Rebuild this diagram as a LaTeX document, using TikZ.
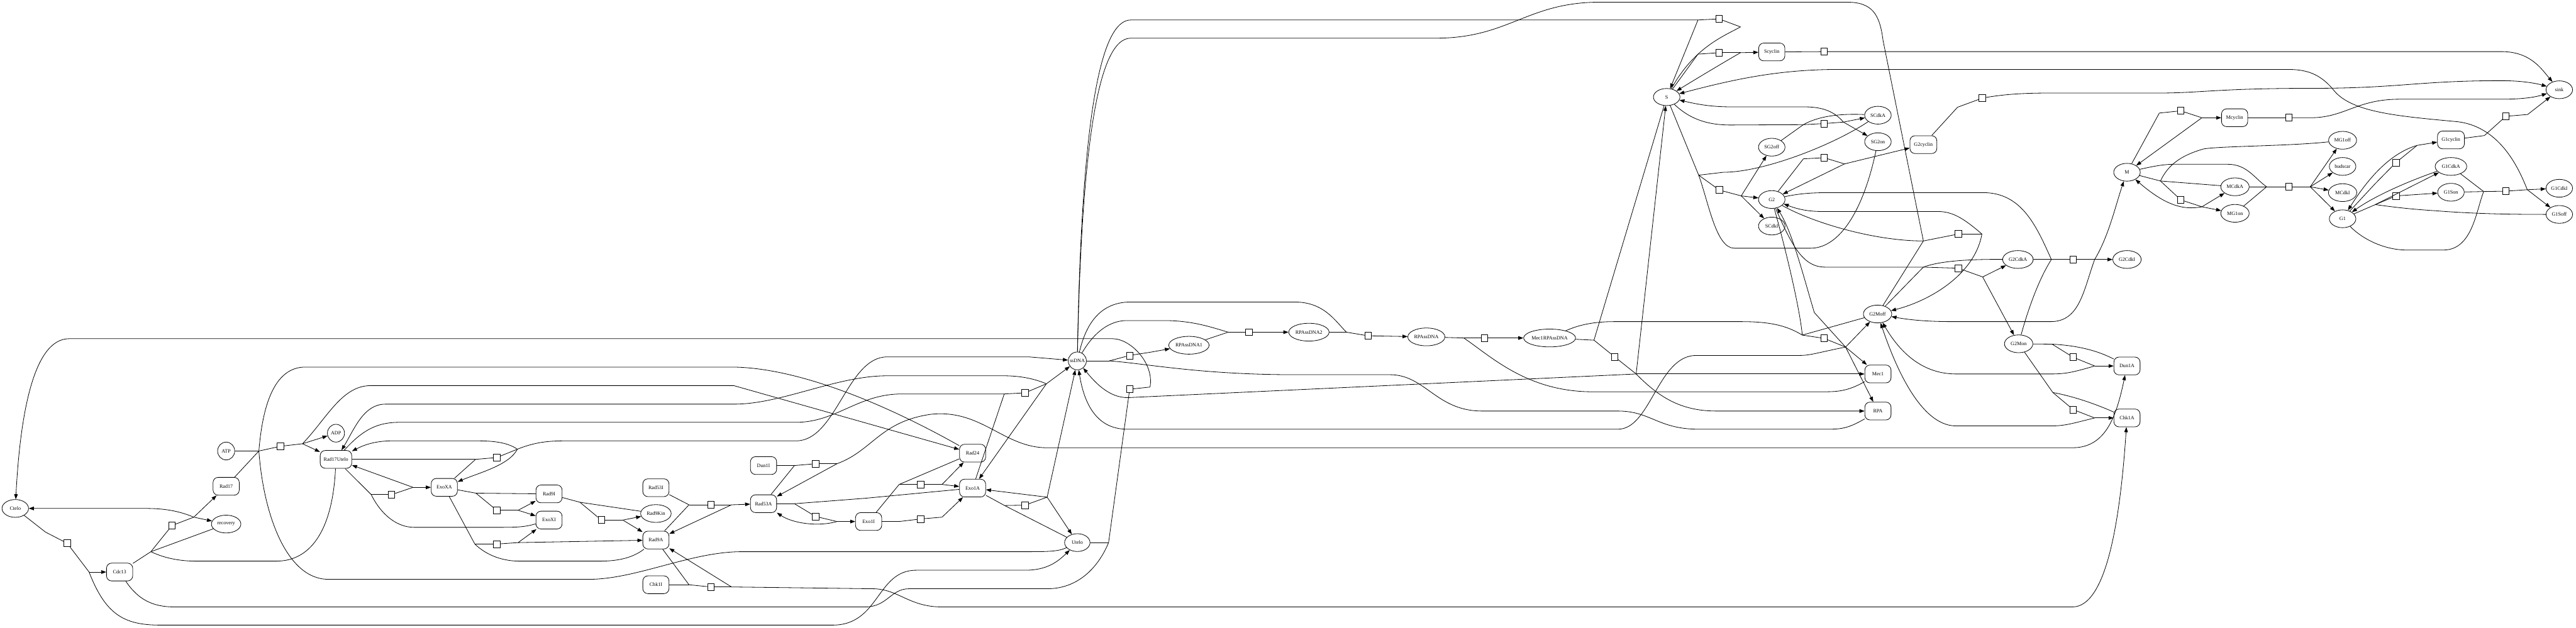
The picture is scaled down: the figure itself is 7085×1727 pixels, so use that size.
\documentclass[tikz,border=0pt]{standalone}
\usepackage{fontspec}
\setmainfont{Liberation Serif}
\usetikzlibrary{shapes.geometric, arrows.meta}

\begin{document}
\begin{tikzpicture}[
    x=1pt, y=-1pt,
    font=\fontsize{14}{16}\selectfont,
    sp/.style={ellipse, draw, line width=1.4pt, minimum width=73pt, minimum height=49pt, inner sep=1pt},
    bx/.style={rectangle, draw, rounded corners=14pt, line width=1.4pt, minimum width=72pt, minimum height=49pt, inner xsep=9.5pt},
    rx/.style={rectangle, draw, fill=white, line width=1.4pt, minimum width=18pt, minimum height=19pt, inner sep=0pt},
    ln/.style={line width=1.4pt},
    pr/.style={line width=1.4pt, -{Triangle[length=14pt, width=10pt]}}
]
\useasboundingbox (0,0) rectangle (7085,1727);

% 1. Species: telomere and checkpoint proteins
\node[sp] (Ctelo) at (42,1399) {Ctelo};
\node[bx] (Cdc13) at (329,1574) {Cdc13};
\node[sp, minimum width=47pt] (ATP) at (622,1241) {ATP};
\node[bx] (Rad17) at (622,1338) {Rad17};
\node[sp, minimum width=81pt] (recovery) at (622,1442) {recovery};
\node[sp, minimum width=47pt] (ADP) at (924,1192) {ADP};
\node[bx] (Rad17Utelo) at (924,1264) {Rad17Utelo};
\node[bx] (ExoXA) at (1222,1341) {ExoXA};
\node[bx] (Rad9I) at (1510,1359) {Rad9I};
\node[bx] (ExoXI) at (1510,1431) {ExoXI};
\node[bx] (Rad53I) at (1804,1342) {Rad53I};
\node[sp, minimum width=84pt] (Rad9Kin) at (1804,1413) {Rad9Kin};
\node[bx] (Rad9A) at (1804,1486) {Rad9A};
\node[bx] (Chk1I) at (1804,1609) {Chk1I};
\node[bx] (Dun1I) at (2100,1281) {Dun1I};
\node[bx] (Rad53A) at (2100,1386) {Rad53A};
\node[bx] (Exo1I) at (2389,1435) {Exo1I};
\node[bx] (Rad24) at (2675,1247) {Rad24};
\node[bx] (Exo1A) at (2675,1343) {Exo1A};
\node[sp, minimum width=47pt, inner xsep=-3pt] (ssDNA) at (2963,993) {ssDNA};
\node[sp, minimum width=70pt] (Utelo) at (2963,1493) {Utelo};
\node[sp, minimum width=111pt] (RPAssDNA1) at (3270,950) {RPAssDNA1};
\node[sp, minimum width=111pt] (RPAssDNA2) at (3600,914) {RPAssDNA2};
\node[sp, minimum width=102pt] (RPAssDNA) at (3923,927) {RPAssDNA};
\node[sp, minimum width=139pt] (Mec1RPAssDNA) at (4262,930) {Mec1RPAssDNA};
\node[bx] (Mec1) at (5165,1029) {Mec1};
\node[bx] (RPA) at (5165,1131) {RPA};
\node[bx] (Dun1A) at (5850,1007) {Dun1A};
\node[bx] (Chk1A) at (5850,1150) {Chk1A};

% 2. Species: cell cycle
\node[sp, minimum height=47pt] (S) at (4584,267) {S};
\node[bx] (Scyclin) at (4873,143) {Scyclin};
\node[sp] (SCdkA) at (5165,317) {SCdkA};
\node[sp] (SG2on) at (5165,390) {SG2on};
\node[sp] (SG2off) at (4873,405) {SG2off};
\node[bx, minimum width=74pt] (G2cyclin) at (5290,398) {G2cyclin};
\node[sp] (G2) at (4873,549) {G2};
\node[sp] (SCdkI) at (4873,622) {SCdkI};
\node[sp] (M) at (5850,474) {M};
\node[sp, minimum width=84pt] (G2CdkA) at (5550,714) {G2CdkA};
\node[sp, minimum width=78pt] (G2CdkI) at (5850,714) {G2CdkI};
\node[sp, minimum width=78pt] (G2Moff) at (5164,864) {G2Moff};
\node[sp, minimum width=78pt] (G2Mon) at (5552,946) {G2Mon};
\node[sp] (sink) at (7039,247) {sink};
\node[bx] (Mcyclin) at (6146,324) {Mcyclin};
\node[sp, minimum width=77pt] (MG1off) at (6443,386) {MG1off};
\node[sp] (budscar) at (6443,458) {budscar};
\node[sp, minimum width=78pt] (MCdkA) at (6147,514) {MCdkA};
\node[sp, minimum width=78pt] (MCdkI) at (6443,530) {MCdkI};
\node[sp, minimum width=78pt] (MG1on) at (6147,587) {MG1on};
\node[sp] (G1) at (6443,602) {G1};
\node[bx, minimum width=74pt] (G1cyclin) at (6741,385) {G1cyclin};
\node[sp, minimum width=87pt] (G1CdkA) at (6741,458) {G1CdkA};
\node[sp] (G1Son) at (6741,529) {G1Son};
\node[sp] (G1CdkI) at (7039,518) {G1CdkI};
\node[sp] (G1Soff) at (7039,590) {G1Soff};

% 3. Reactions
\node[rx] (q1) at (185,1495) {};   \coordinate (q1i) at (125,1464);  \coordinate (q1o) at (245,1574);
\node[rx] (q2) at (473,1446) {};   \coordinate (q2i) at (415,1518);  \coordinate (q2o) at (533,1423);
\node[rx] (q3) at (771,1228) {};   \coordinate (q3i) at (712,1241);  \coordinate (q3o) at (832,1221);
\node[rx] (q4) at (1077,1361) {};  \coordinate (q4i) at (1021,1361); \coordinate (q4o) at (1136,1341);
\node[rx] (q5) at (1366,1259) {};  \coordinate (q5i) at (1308,1264); \coordinate (q5o) at (1423,1236);
\node[rx] (q6) at (1366,1404) {};  \coordinate (q6i) at (1309,1357); \coordinate (q6o) at (1425,1404);
\node[rx] (q7) at (1366,1497) {};  \coordinate (q7i) at (1306,1497); \coordinate (q7o) at (1425,1493);
\node[rx] (q8) at (1654,1431) {};  \coordinate (q8i) at (1595,1382); \coordinate (q8o) at (1713,1431);
\node[rx] (q9) at (1955,1389) {};  \coordinate (q9i) at (1895,1389); \coordinate (q9o) at (2012,1389);
\node[rx] (q10) at (1955,1615) {}; \coordinate (q10i) at (1895,1609); \coordinate (q10o) at (2012,1615);
\node[rx] (q11) at (2243,1276) {}; \coordinate (q11i) at (2185,1281); \coordinate (q11o) at (2302,1276);
\node[rx] (q12) at (2243,1421) {}; \coordinate (q12i) at (2185,1386); \coordinate (q12o) at (2302,1435);
\node[rx] (q13) at (2532,1333) {}; \coordinate (q13i) at (2473,1333); \coordinate (q13o) at (2591,1333);
\node[rx] (q14) at (2532,1428) {}; \coordinate (q14i) at (2473,1435); \coordinate (q14o) at (2591,1423);
\node[rx] (q15) at (2819,1081) {}; \coordinate (q15i) at (2762,1084); \coordinate (q15o) at (2878,1056);
\node[rx] (q16) at (2819,1390) {}; \coordinate (q16i) at (2763,1391); \coordinate (q16o) at (2880,1368);
\node[rx] (q17) at (3107,978) {};  \coordinate (q17i) at (3051,993);  \coordinate (q17o) at (3165,969);
\node[rx] (q18) at (3107,1071) {}; \coordinate (q18i) at (3049,1493); \coordinate (q18o) at (3163,1065);
\node[rx] (q19) at (3435,914) {};  \coordinate (q19i) at (3378,914);
\node[rx] (q20) at (3763,924) {};  \coordinate (q20i) at (3703,914);
\node[rx] (q21) at (4083,930) {};  \coordinate (q21i) at (4026,930);
\node[rx] (q22) at (4441,982) {};  \coordinate (q22i) at (4384,936); \coordinate (q22o) at (4500,1029);
\node[rx] (q23) at (4728,52) {};   \coordinate (q23i) at (4670,55);  \coordinate (q23o) at (4787,74);
\node[rx] (q24) at (4728,145) {};  \coordinate (q24i) at (4670,149); \coordinate (q24o) at (4787,145);
\node[rx] (q25) at (4729,523) {};  \coordinate (q25i) at (4672,482); \coordinate (q25o) at (4789,539);
\node[rx] (q26) at (5017,142) {};
\node[rx] (q27) at (5017,340) {};  \coordinate (q27i) at (4960,343); \coordinate (q27o) at (5070,336);
\node[rx] (q28) at (5017,434) {};  \coordinate (q28i) at (4960,437); \coordinate (q28o) at (5073,451);
\node[rx] (q29) at (5386,644) {};  \coordinate (q29i) at (5290,663); \coordinate (q29o) at (5451,644);
\node[rx] (q30) at (5386,738) {};  \coordinate (q30i) at (5290,735); \coordinate (q30o) at (5453,762);
\node[rx] (q31) at (5017,931) {};  \coordinate (q31i) at (4957,922); \coordinate (q31o) at (5076,955);
\node[rx] (q32) at (5452,270) {};  \coordinate (q32i) at (5384,295);
\node[rx] (q33) at (5702,714) {};  \coordinate (q33i) at (5642,714); \coordinate (q33o) at (5761,714);
\node[rx] (q34) at (5702,983) {};  \coordinate (q34i) at (5644,947); \coordinate (q34o) at (5761,1007);
\node[rx] (q35) at (5702,1127) {}; \coordinate (q35i) at (5646,1080); \coordinate (q35o) at (5761,1150);
\node[rx] (q36) at (5998,305) {};  \coordinate (q36i) at (5939,311); \coordinate (q36o) at (6056,324);
\node[rx] (q37) at (6295,324) {};
\node[rx] (q38) at (5998,550) {};  \coordinate (q38i) at (5942,498); \coordinate (q38o) at (6056,569);
\node[rx] (q39) at (6295,514) {};  \coordinate (q39i) at (6234,514); \coordinate (q39o) at (6354,514);
\node[rx] (q40) at (6590,447) {};  \coordinate (q40i) at (6533,505); \coordinate (q40o) at (6648,400);
\node[rx] (q41) at (6590,539) {};  \coordinate (q41i) at (6533,563);
\node[rx] (q42) at (6892,320) {};  \coordinate (q42i) at (6833,373);
\node[rx] (q43) at (6892,526) {};  \coordinate (q43i) at (6831,527); \coordinate (q43o) at (6951,522);

% -- uncapping and recovery --
\draw[ln] (Ctelo) -- (q1i) -- (q1);
\draw[ln] (q1) -- (q1o);
\draw[pr] (q1o) -- (Cdc13);
\draw[pr] (q1o) .. controls (290,1690) and (340,1720) .. (440,1720) -- (2290,1720) .. controls (2420,1720) and (2410,1569) .. (2520,1569) -- (2820,1569) .. controls (2880,1569) and (2910,1545) .. (Utelo);
\draw[ln] (Cdc13) -- (q2i);
\draw[ln] (recovery) -- (q2i);
\draw[ln] (Rad17Utelo) .. controls (915,1450) and (860,1544) .. (760,1544) -- (540,1544) .. controls (480,1544) and (440,1530) .. (q2i);
\draw[ln] (q2i) -- (q2);
\draw[ln] (q2) -- (q2o);
\draw[pr] (q2o) -- (Rad17);
\draw[pr] (q2o) -- (recovery);
\draw[pr] (q2o) .. controls (490,1405) and (450,1399) .. (400,1399) -- (Ctelo);

% -- Rad17 loading --
\draw[ln] (ATP) -- (q3i);
\draw[ln] (Rad17) -- (q3i);
\draw[ln] (Utelo) .. controls (2910,1518) and (2880,1518) .. (2820,1518) -- (2040,1518) .. controls (1900,1518) and (1750,1594) .. (1620,1594) -- (903,1594) .. controls (790,1594) and (725,1420) .. (q3i);
\draw[ln] (q3i) .. controls (725,1080) and (770,1010) .. (840,1010) -- (2010,1010) .. controls (2200,1010) and (2450,1120) .. (Rad24);
\draw[ln] (q3i) -- (q3);
\draw[ln] (q3) -- (q3o);
\draw[pr] (q3o) -- (ADP);
\draw[pr] (q3o) -- (Rad17Utelo);
\draw[pr] (q3o) .. controls (900,1150) and (940,1061) .. (1020,1061) -- (2018,1061) -- (Rad24);

% -- ExoX --
\draw[ln] (Rad17Utelo) -- (q4i);
\draw[ln] (ExoXI) .. controls (1440,1451) and (1420,1451) .. (1360,1451) -- (1140,1451) .. controls (1080,1451) and (1040,1400) .. (q4i);
\draw[ln] (q4i) -- (q4);
\draw[ln] (q4) -- (q4o);
\draw[pr] (q4o) -- (Rad17Utelo);
\draw[pr] (q4o) -- (ExoXA);
\draw[ln] (Rad17Utelo.east) -- (q5i);
\draw[ln] (ExoXA) -- (q5i);
\draw[ln] (q5i) -- (q5);
\draw[ln] (q5) -- (q5o);
\draw[pr] (q5o) .. controls (1400,1280) and (1320,1300) .. (ExoXA);
\draw[pr] (q5o) .. controls (1390,1213) and (1340,1213) .. (1300,1213) -- (1080,1213) .. controls (1030,1213) and (1000,1225) .. (Rad17Utelo);
\draw[pr] (q5o) .. controls (1480,1213) and (1520,1213) .. (1570,1213) -- (2190,1213) .. controls (2300,1213) and (2330,982) .. (2440,982) -- (2830,982) -- (ssDNA);
\draw[ln] (ExoXA) -- (q6i);
\draw[ln] (Rad9I) -- (q6i);
\draw[ln] (q6i) -- (q6);
\draw[ln] (q6) -- (q6o);
\draw[pr] (q6o) -- (Rad9I);
\draw[pr] (q6o) -- (ExoXI);
\draw[ln] (ExoXA) -- (q7i);
\draw[ln] (Rad9A) .. controls (1740,1535) and (1700,1544) .. (1650,1544) -- (1430,1544) .. controls (1370,1544) and (1330,1520) .. (q7i);
\draw[ln] (q7i) -- (q7);
\draw[ln] (q7) -- (q7o);
\draw[pr] (q7o) -- (ExoXI);
\draw[pr] (q7o) -- (Rad9A);

% -- Rad9, Rad53, Chk1, Dun1 --
\draw[ln] (Rad9I) -- (q8i);
\draw[ln] (Rad9Kin) -- (q8i);
\draw[ln] (q8i) -- (q8);
\draw[ln] (q8) -- (q8o);
\draw[pr] (q8o) -- (Rad9Kin);
\draw[pr] (q8o) -- (Rad9A);
\draw[ln] (Rad53I) -- (q9i);
\draw[ln] (Rad9A) -- (q9i);
\draw[ln] (q9i) -- (q9);
\draw[ln] (q9) -- (q9o);
\draw[pr] (q9o) -- (Rad53A);
\draw[pr] (q9o) -- (Rad9A);
\draw[ln] (Chk1I) -- (q10i);
\draw[ln] (Rad9A) -- (q10i);
\draw[ln] (q10i) -- (q10);
\draw[ln] (q10) -- (q10o);
\draw[pr] (q10o) -- (Rad9A);
\draw[pr] (q10o) -- (2400,1620) .. controls (2470,1620) and (2500,1670) .. (2590,1670) -- (5700,1670) .. controls (5790,1670) and (5830,1450) .. (Chk1A);
\draw[ln] (Dun1I) -- (q11i);
\draw[ln] (Rad53A) -- (q11i);
\draw[ln] (q11i) -- (q11);
\draw[ln] (q11) -- (q11o);
\draw[pr] (q11o) -- (Rad53A);
\draw[pr] (q11o) .. controls (2400,1240) and (2420,1160) .. (2560,1140) .. controls (2700,1125) and (2760,1232) .. (2880,1232) -- (5700,1232) .. controls (5790,1232) and (5820,1150) .. (Dun1A);
\draw[ln] (Rad53A) -- (q12i);
\draw[ln] (Exo1A) -- (2380,1371) -- (q12i);
\draw[ln] (q12i) -- (q12);
\draw[ln] (q12) -- (q12o);
\draw[pr] (q12o) -- (Exo1I);
\draw[pr] (q12o) .. controls (2250,1450) and (2180,1440) .. (Rad53A);

% -- Exo1 and resection --
\draw[ln] (Exo1I) -- (q13i);
\draw[ln] (Rad24) -- (q13i);
\draw[ln] (q13i) -- (q13);
\draw[ln] (q13) -- (q13o);
\draw[pr] (q13o) -- (Rad24);
\draw[pr] (q13o) -- (Exo1A);
\draw[ln] (Exo1I) -- (q14i);
\draw[ln] (q14i) -- (q14);
\draw[ln] (q14) -- (q14o);
\draw[pr] (q14o) -- (Exo1A);
\draw[ln] (Rad17Utelo) .. controls (1000,1180) and (1040,1162) .. (1100,1162) -- (2190,1162) .. controls (2300,1162) and (2360,1084) .. (2480,1084) -- (q15i);
\draw[ln] (Exo1A) -- (q15i);
\draw[ln] (q15i) -- (q15);
\draw[ln] (q15) -- (q15o);
\draw[pr] (q15o) -- (Exo1A);
\draw[pr] (q15o) -- (ssDNA);
\draw[pr] (q15o) .. controls (2840,1040) and (2800,1034) .. (2760,1034) -- (2440,1034) .. controls (2300,1034) and (2150,1112) .. (2020,1112) -- (1060,1112) .. controls (1000,1112) and (975,1180) .. (Rad17Utelo);
\draw[ln] (Exo1A) -- (q16i);
\draw[ln] (Utelo) -- (q16i);
\draw[ln] (q16i) -- (q16);
\draw[ln] (q16) -- (q16o);
\draw[pr] (q16o) -- (Exo1A);
\draw[pr] (q16o) -- (Utelo);
\draw[pr] (q16o) -- (ssDNA);

% -- recapping --
\draw[ln] (Utelo) -- (q18i);
\draw[ln] (Cdc13) .. controls (380,1650) and (420,1670) .. (480,1670) -- (2380,1670) .. controls (2440,1670) and (2450,1620) .. (2500,1620) -- (2880,1620) .. controls (2980,1620) and (3030,1540) .. (q18i);
\draw[ln] (q18i) -- (q18);
\draw[ln] (q18) -- (q18o);
\draw[pr] (q18o) .. controls (3175,1000) and (3110,932) .. (3060,932) -- (190,932) .. controls (90,932) and (55,1150) .. (Ctelo);

% -- RPA and Mec1 --
\draw[ln] (ssDNA) -- (q17i);
\draw[ln] (RPA) .. controls (5080,1181) and (5060,1181) .. (5020,1181) -- (4672,1181) .. controls (4560,1181) and (4540,1131) .. (4450,1131) -- (4076,1131) .. controls (3950,1131) and (3920,1031) .. (3823,1031) -- (3560,1031) .. controls (3300,1031) and (3150,1000) .. (q17i);
\draw[ln] (q17i) -- (q17);
\draw[ln] (q17) -- (q17o);
\draw[pr] (q17o) -- (RPAssDNA1);
\draw[ln] (RPAssDNA1) -- (q19i);
\draw[ln] (ssDNA) .. controls (3000,930) and (3040,882) .. (3100,882) -- (3200,882) .. controls (3280,882) and (3330,900) .. (q19i);
\draw[ln] (q19i) -- (q19);
\draw[pr] (q19) -- (RPAssDNA2);
\draw[ln] (RPAssDNA2) -- (q20i);
\draw[ln] (ssDNA) .. controls (2985,900) and (3020,831) .. (3110,831) -- (3560,831) .. controls (3640,831) and (3670,880) .. (q20i);
\draw[ln] (q20i) -- (q20);
\draw[pr] (q20) -- (RPAssDNA);
\draw[ln] (RPAssDNA) -- (q21i);
\draw[ln] (Mec1) .. controls (5080,1078) and (5050,1078) .. (5010,1078) -- (4380,1078) .. controls (4200,1078) and (4100,980) .. (q21i);
\draw[ln] (q21i) -- (q21);
\draw[pr] (q21) -- (Mec1RPAssDNA);
\draw[ln] (Mec1RPAssDNA) -- (q22i);
\draw[ln] (S) -- (q22i);
\draw[ln] (q22i) -- (q22);
\draw[ln] (q22) -- (q22o);
\draw[pr] (q22o) -- (S);
\draw[pr] (q22o) -- (Mec1);
\draw[pr] (q22o) .. controls (4560,1090) and (4620,1131) .. (4720,1131) -- (RPA);
\draw[pr] (q22o) -- (3104,1094) .. controls (3050,1096) and (3010,1050) .. (ssDNA);

% -- S phase --
\draw[ln] (ssDNA) .. controls (2975,300) and (3030,55) .. (3110,55) -- (q23i);
\draw[pr] (q23i) -- (S);
\draw[ln] (q23i) -- (q23);
\draw[ln] (q23) -- (q23o);
\draw[ln] (q23o) .. controls (4740,100) and (4660,130) .. (S);
\draw[ln] (S) -- (q24i);
\draw[ln] (q24i) -- (q24);
\draw[ln] (q24) -- (q24o);
\draw[pr] (q24o) -- (Scyclin);
\draw[pr] (q24o) .. controls (4740,172) and (4660,220) .. (S);
\draw[ln] (Scyclin) -- (q26);
\draw[pr] (q26) -- (6880,142) .. controls (6960,142) and (6990,190) .. (sink);
\draw[ln] (S) .. controls (4650,330) and (4700,344) .. (4760,344) -- (q27i);
\draw[ln] (SG2off) -- (q27i);
\draw[ln] (SCdkA) .. controls (5060,312) and (5000,320) .. (q27i);
\draw[ln] (q27i) -- (q27);
\draw[ln] (q27) -- (q27o);
\draw[pr] (q27o) -- (SCdkA);
\draw[pr] (q27o) -- (SG2on);
\draw[pr] (q27o) .. controls (5040,300) and (5000,294) .. (4960,294) -- (4760,294) .. controls (4700,294) and (4660,285) .. (S);
\draw[ln] (S) -- (q25i);
\draw[ln] (SCdkA) .. controls (5040,400) and (4850,474) .. (4740,474) -- (q25i);
\draw[ln] (SG2on) .. controls (5120,600) and (5050,683) .. (4980,683) -- (4770,683) .. controls (4720,683) and (4700,560) .. (q25i);
\draw[ln] (q25i) -- (q25);
\draw[ln] (q25) -- (q25o);
\draw[pr] (q25o) -- (G2);
\draw[pr] (q25o) -- (SG2off);
\draw[pr] (q25o) -- (SCdkI);

% -- G2 phase --
\draw[ln] (G2) -- (q28i);
\draw[ln] (q28i) -- (q28);
\draw[ln] (q28) -- (q28o);
\draw[pr] (q28o) -- (G2cyclin);
\draw[pr] (q28o) -- (G2);
\draw[ln] (G2cyclin) -- (q32i);
\draw[ln] (q32i) -- (q32);
\draw[pr] (q32) .. controls (5520,258) and (5580,256) .. (5640,256) -- (5939,256) .. controls (6050,256) and (6100,243) .. (6360,243) .. controls (6600,243) and (6650,222) .. (6880,222) .. controls (6930,222) and (6970,228) .. (sink);
\draw[ln] (ssDNA) .. controls (2975,400) and (3020,105) .. (3110,105) -- (3950,105) .. controls (4150,105) and (4200,6) .. (4400,6) -- (5080,6) .. controls (5150,6) and (5170,40) .. (5179,111) -- (q29i);
\draw[ln] (G2Moff) -- (q29i);
\draw[ln] (G2) .. controls (4980,610) and (5150,663) .. (q29i);
\draw[ln] (q29i) -- (q29);
\draw[ln] (q29) -- (q29o);
\draw[pr] (q29o) .. controls (5400,600) and (5370,582) .. (5330,582) -- (5011,582) .. controls (4960,582) and (4930,570) .. (G2);
\draw[pr] (q29o) .. controls (5430,760) and (5300,830) .. (G2Moff);
\draw[ln] (G2) .. controls (4930,680) and (4960,735) .. (5020,735) -- (q30i);
\draw[ln] (G2Moff) -- (q30i);
\draw[ln] (G2CdkA) .. controls (5400,713) and (5330,720) .. (q30i);
\draw[ln] (q30i) -- (q30);
\draw[ln] (q30) -- (q30o);
\draw[pr] (q30o) -- (G2CdkA);
\draw[pr] (q30o) -- (G2Mon);
\draw[ln] (G2) .. controls (4915,700) and (4950,850) .. (q31i);
\draw[ln] (Mec1RPAssDNA) .. controls (4340,895) and (4380,885) .. (4440,885) -- (4790,885) .. controls (4880,885) and (4920,900) .. (q31i);
\draw[ln] (G2Moff) -- (q31i);
\draw[ln] (q31i) -- (q31);
\draw[ln] (q31) -- (q31o);
\draw[pr] (q31o) -- (Mec1);
\draw[pr] (q31o) -- (RPA);
\draw[pr] (q31o) -- (G2Moff);
\draw[pr] (q31o) -- (4990,860) .. controls (4960,760) and (4930,640) .. (G2);
\draw[pr] (q31o) .. controls (5000,970) and (4980,978) .. (4950,978) -- (4665,978) .. controls (4560,978) and (4540,1181) .. (4450,1181) -- (3100,1181) .. controls (3010,1181) and (2980,1100) .. (ssDNA);

% -- G2/M checkpoint --
\draw[ln] (G2) .. controls (4960,530) and (5000,530) .. (5050,530) -- (5454,530) .. controls (5560,530) and (5600,620) .. (q33i);
\draw[ln] (G2CdkA) -- (q33i);
\draw[ln] (G2Mon) .. controls (5570,880) and (5600,780) .. (q33i);
\draw[ln] (q33i) -- (q33);
\draw[ln] (q33) -- (q33o);
\draw[pr] (q33o) -- (G2CdkI);
\draw[pr] (q33o) .. controls (5800,650) and (5820,560) .. (M);
\draw[pr] (q33o) .. controls (5730,800) and (5720,885) .. (5640,885) -- (5370,885) .. controls (5300,885) and (5250,880) .. (G2Moff);
\draw[ln] (G2Mon) -- (q34i);
\draw[ln] (Dun1A) .. controls (5760,960) and (5700,950) .. (q34i);
\draw[ln] (q34i) -- (q34);
\draw[ln] (q34) -- (q34o);
\draw[pr] (q34o) -- (Dun1A);
\draw[pr] (q34o) .. controls (5700,1025) and (5680,1029) .. (5640,1029) -- (5380,1029) .. controls (5280,1029) and (5220,960) .. (G2Moff);
\draw[ln] (G2Mon) -- (q35i);
\draw[ln] (Chk1A) .. controls (5760,1110) and (5700,1090) .. (q35i);
\draw[ln] (q35i) -- (q35);
\draw[ln] (q35) -- (q35o);
\draw[pr] (q35o) -- (Chk1A);
\draw[pr] (q35o) .. controls (5700,1165) and (5680,1172) .. (5640,1172) -- (5380,1172) .. controls (5280,1172) and (5210,1000) .. (G2Moff);

% -- M phase --
\draw[ln] (M) -- (q36i);
\draw[ln] (q36i) -- (q36);
\draw[ln] (q36) -- (q36o);
\draw[pr] (q36o) -- (Mcyclin);
\draw[pr] (q36o) -- (M);
\draw[ln] (Mcyclin) -- (q37);
\draw[pr] (q37) -- (6354,324) .. controls (6450,324) and (6480,273) .. (6600,273) -- (6880,273) .. controls (6950,273) and (6980,265) .. (sink);
\draw[ln] (M) -- (q38i);
\draw[ln] (MCdkA) -- (q38i);
\draw[ln] (MG1off) .. controls (6300,402) and (6100,402) .. (6060,410) .. controls (5990,430) and (5960,460) .. (q38i);
\draw[ln] (q38i) -- (q38);
\draw[ln] (q38) -- (q38o);
\draw[pr] (q38o) -- (MG1on);
\draw[pr] (q38o) -- (MCdkA);
\draw[pr] (q38o) .. controls (6000,580) and (5950,560) .. (M);
\draw[ln] (MCdkA) -- (q39i);
\draw[ln] (MG1on) -- (q39i);
\draw[ln] (M) .. controls (5920,458) and (5950,452) .. (5980,452) -- (6127,452) .. controls (6180,452) and (6200,490) .. (q39i);
\draw[ln] (q39i) -- (q39);
\draw[ln] (q39) -- (q39o);
\draw[pr] (q39o) -- (MG1off);
\draw[pr] (q39o) -- (budscar);
\draw[pr] (q39o) -- (MCdkI);
\draw[pr] (q39o) -- (G1);

% -- G1 phase --
\draw[ln] (G1) -- (q40i);
\draw[ln] (q40i) -- (q40);
\draw[ln] (q40) -- (q40o);
\draw[pr] (q40o) -- (G1cyclin);
\draw[pr] (q40o) .. controls (6580,420) and (6520,480) .. (G1);
\draw[ln] (G1cyclin) -- (q42i);
\draw[ln] (q42i) -- (q42);
\draw[pr] (q42) -- (6952,315) -- (sink);
\draw[ln] (G1) -- (q41i);
\draw[ln] (G1Soff) .. controls (6900,590) and (6800,588) .. (6700,580) .. controls (6620,575) and (6570,568) .. (q41i);
\draw[pr] (q41i) -- (G1CdkA);
\draw[ln] (q41i) -- (q41);
\draw[pr] (q41) -- (G1Son);
\draw[pr] (G1CdkA) .. controls (6620,500) and (6530,540) .. (G1);
\draw[ln] (G1Son) -- (q43i);
\draw[ln] (G1CdkA) -- (q43i);
\draw[ln] (G1) .. controls (6500,660) and (6560,688) .. (6620,688) -- (6720,688) .. controls (6800,688) and (6810,580) .. (q43i);
\draw[ln] (q43i) -- (q43);
\draw[ln] (q43) -- (q43o);
\draw[pr] (q43o) -- (G1CdkI);
\draw[pr] (q43o) -- (G1Soff);
\draw[pr] (q43o) .. controls (6930,470) and (6880,350) .. (6760,335) .. controls (6600,320) and (6470,310) .. (6420,250) .. controls (6380,200) and (6340,191) .. (6290,191) -- (5060,191) .. controls (4900,191) and (4780,215) .. (S);

\end{tikzpicture}
\end{document}
